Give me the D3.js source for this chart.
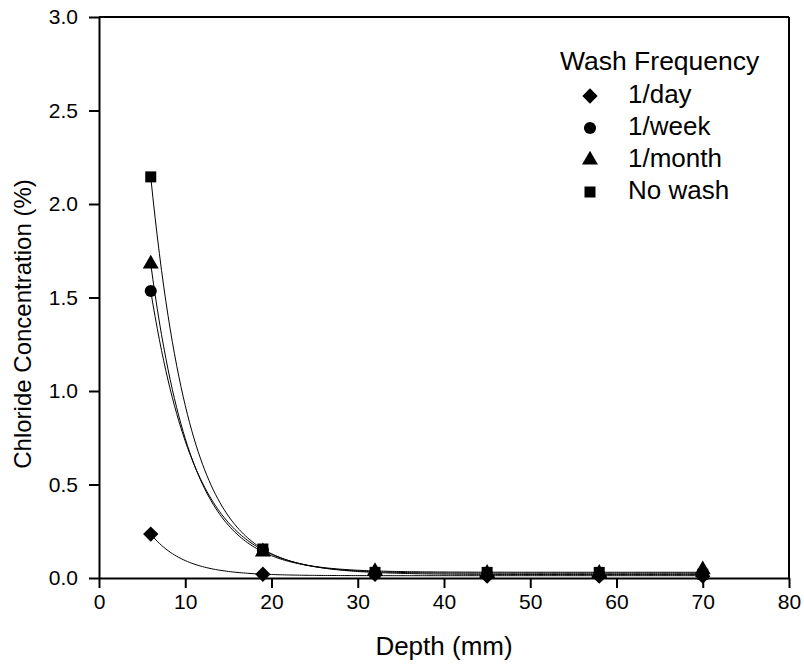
<!DOCTYPE html>
<html>
<head>
<meta charset="utf-8">
<script src="https://cdn.jsdelivr.net/npm/d3@7"></script>
<style>
  body { margin: 0; background: #fff; }
  svg text { font-family: "Liberation Sans", Arial, sans-serif; fill: #000; }
</style>
</head>
<body>
<div id="chart"></div>
<script>
// data
const depths = [6, 19, 32, 45, 58, 70];
const perDay = [0.235, 0.02, 0.02, 0.01, 0.01, 0.01];
const perWeek = [1.535, 0.15, 0.025, 0.02, 0.02, 0.02];
const perMonth = [1.68, 0.14, 0.035, 0.025, 0.025, 0.045];
const noWash = [2.145, 0.155, 0.03, 0.03, 0.03, 0.02];
const seriesNames = ['1/day', '1/week', '1/month', 'No wash'];
const xTicks = [0, 10, 20, 30, 40, 50, 60, 70, 80];
const yTicks = [0, 0.5, 1.0, 1.5, 2.0, 2.5, 3.0];

const series = [
  { name: seriesNames[0], values: perDay, symbol: d3.symbolDiamond2, size: 150 },
  { name: seriesNames[1], values: perWeek, symbol: d3.symbolCircle, size: 115 },
  { name: seriesNames[2], values: perMonth, symbol: d3.symbolTriangle, size: 110 },
  { name: seriesNames[3], values: noWash, symbol: d3.symbolSquare, size: 121 }
];

const width = 804, height = 669;
const margin = { top: 17, right: 15, bottom: 91, left: 99 };
const w = width - margin.left - margin.right;
const h = height - margin.top - margin.bottom;

const svg = d3.select('#chart').append('svg')
  .attr('width', width)
  .attr('height', height);

const g = svg.append('g')
  .attr('transform', `translate(${margin.left},${margin.top})`);

const x = d3.scaleLinear().domain([0, 80]).range([0, w]);
const y = d3.scaleLinear().domain([0, 3]).range([h, 0]);

// exponential decay regression y = a*exp(-b*x) + c, fitted to each series
function fitExp(xs, ys) {
  let best = null;
  for (let b = 0.005; b <= 1.5; b += 0.0005) {
    const e = xs.map(v => Math.exp(-b * v));
    const n = xs.length;
    const se = d3.sum(e), sy = d3.sum(ys);
    const see = d3.sum(e, v => v * v);
    const sey = d3.sum(e.map((v, i) => v * ys[i]));
    const den = n * see - se * se;
    const a = (n * sey - se * sy) / den;
    const c = (sy - a * se) / n;
    const sse = d3.sum(xs.map((v, i) => (a * e[i] + c - ys[i]) ** 2));
    if (!best || sse < best.sse) best = { a, b, c, sse };
  }
  return best;
}

const line = d3.line()
  .x(d => x(d[0]))
  .y(d => y(d[1]));

series.forEach(s => {
  const f = fitExp(depths, s.values);
  const pts = d3.range(depths[0], depths[depths.length - 1] + 0.01, 0.25)
    .map(v => [v, f.a * Math.exp(-f.b * v) + f.c]);
  g.append('path')
    .datum(pts)
    .attr('fill', 'none')
    .attr('stroke', '#000')
    .attr('stroke-width', 1)
    .attr('d', line);
});

// markers
series.forEach(s => {
  g.selectAll(null)
    .data(depths.map((d, i) => [d, s.values[i]]))
    .enter()
    .append('path')
    .attr('transform', d => `translate(${x(d[0])},${y(d[1])})`)
    .attr('d', d3.symbol(s.symbol, s.size))
    .attr('fill', '#000');
});

// axes
const xAxis = g.append('g')
  .attr('transform', `translate(0,${h})`)
  .call(d3.axisBottom(x).tickValues(xTicks).tickSize(10).tickSizeOuter(0).tickPadding(6));
const yAxis = g.append('g')
  .call(d3.axisLeft(y).tickValues(yTicks).tickFormat(d3.format('.1f')).tickSize(10).tickSizeOuter(0).tickPadding(11));

[xAxis, yAxis].forEach(a => {
  a.select('.domain').attr('stroke-width', 2);
  a.selectAll('.tick line').attr('stroke-width', 2);
  a.selectAll('.tick text').attr('font-size', 21).attr('font-family', '"Liberation Sans", Arial, sans-serif');
});

// top and right frame lines
g.append('line').attr('x1', 0).attr('x2', w).attr('y1', 0).attr('y2', 0)
  .attr('stroke', '#000').attr('stroke-width', 2);
g.append('line').attr('x1', w).attr('x2', w).attr('y1', 0).attr('y2', h)
  .attr('stroke', '#000').attr('stroke-width', 2);

// axis titles
svg.append('text')
  .attr('x', margin.left + w / 2)
  .attr('y', 655)
  .attr('text-anchor', 'middle')
  .attr('font-size', 26)
  .text('Depth (mm)');

svg.append('text')
  .attr('transform', 'translate(31,324) rotate(-90)')
  .attr('text-anchor', 'middle')
  .attr('font-size', 24)
  .text('Chloride Concentration (%)');

// legend
const legend = svg.append('g').attr('transform', 'translate(560,70)');
legend.append('text')
  .attr('font-size', 26.5)
  .text('Wash Frequency');

const rows = legend.selectAll('.legend')
  .data(series)
  .enter()
  .append('g')
  .attr('class', 'legend')
  .attr('transform', (d, i) => `translate(0,${26 + i * 32})`);

rows.append('path')
  .attr('transform', 'translate(30,0)')
  .attr('d', d => d3.symbol(d.symbol, d.size)())
  .attr('fill', '#000');

rows.append('text')
  .attr('x', 68)
  .attr('y', 7)
  .attr('font-size', 26)
  .text(d => d.name);
</script>
</body>
</html>
